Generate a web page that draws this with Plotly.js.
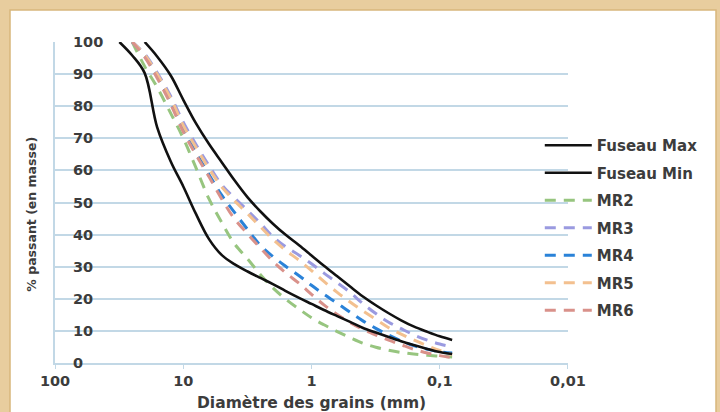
<!DOCTYPE html>
<html>
<head>
<meta charset="utf-8">
<script src="https://cdn.plot.ly/plotly-3.0.1.min.js"></script>
<style>
  html, body { margin: 0; padding: 0; background: #e8cd9e; }
  #chart { width: 720px; height: 412px; }
</style>
</head>
<body>
<div id="chart"></div>
<script>
// Sieve sizes (mm)
const sieves = [31.5, 25, 20, 16, 12.5, 10, 8, 6.3, 5, 4, 3.15, 2.5, 2, 1.6, 1.25, 1, 0.8, 0.63, 0.5, 0.4, 0.315, 0.25, 0.2, 0.16, 0.125, 0.1, 0.08];

// % passing for each curve
const fuseauMax = [null, null, 100, 95.5, 89.5, 82.0, 74.8, 68.2, 62.5, 57.0, 51.6, 47.2, 43.4, 40.0, 36.7, 33.5, 30.3, 27.0, 23.8, 20.8, 18.0, 15.5, 13.3, 11.4, 9.7, 8.3, 7.2];
const fuseauMin = [100, 95.8, 90.3, 73.5, 62.7, 55.0, 46.6, 38.6, 33.6, 30.8, 28.5, 26.5, 24.6, 22.5, 20.3, 18.4, 16.5, 14.6, 12.8, 11.0, 9.5, 8.1, 6.8, 5.6, 4.4, 3.4, 2.8];
const mr2 = [null, 100, 92.4, 85.9, 77.7, 70.0, 61.0, 51.1, 43.7, 37.2, 32.4, 27.5, 23.4, 20.0, 16.8, 14.1, 11.9, 9.8, 7.9, 6.2, 4.9, 4.0, 3.3, 2.8, 2.4, 2.1, 1.9];
const mr3 = [null, 100, 96.3, 90.5, 83.0, 75.0, 68.2, 61.5, 55.5, 51.5, 47.5, 43.5, 39.4, 36.3, 33.6, 30.9, 28.0, 25.0, 22.0, 18.6, 15.4, 12.7, 10.7, 8.8, 7.1, 5.9, 5.0];
const mr4 = [null, 100, 95.6, 89.4, 81.3, 72.7, 65.7, 58.7, 52.2, 47.0, 41.6, 36.6, 33.2, 30.2, 27.2, 24.2, 21.4, 18.6, 15.8, 13.2, 10.8, 8.7, 6.9, 5.4, 4.3, 3.5, 3.1];
const mr5 = [null, 100, 96.0, 90.0, 82.3, 74.0, 67.3, 60.5, 54.8, 50.6, 46.5, 42.4, 38.5, 35.2, 32.0, 28.8, 25.4, 22.0, 19.0, 16.3, 13.6, 11.0, 9.0, 7.2, 5.4, 3.9, 2.6];
const mr6 = [null, 100, 95.3, 88.8, 80.5, 72.0, 65.0, 58.0, 51.0, 45.0, 40.2, 35.8, 31.7, 28.2, 24.8, 21.4, 18.1, 15.1, 12.6, 10.5, 8.7, 7.1, 5.7, 4.3, 3.1, 2.3, 1.7];

const seriesNames = ["Fuseau Max", "Fuseau Min", "MR2", "MR3", "MR4", "MR5", "MR6"];
const seriesData = [fuseauMax, fuseauMin, mr2, mr3, mr4, mr5, mr6];
const seriesColors = ["#111111", "#111111", "#97c57f", "#9a9ae0", "#2a82d8", "#f3c08f", "#d9918a"];

const xTickVals = [100, 10, 1, 0.1, 0.01];
const xTickText = ["100", "10", "1", "0,1", "0,01"];
const yTickVals = [0, 10, 20, 30, 40, 50, 60, 70, 80, 90, 100];
const yTickText = ["0", "10", "20", "30", "40", "50", "60", "70", "80", "90", "100"];

const xTitle = "Diamètre des grains (mm)";
const yTitle = "% passant (en masse)";

const traces = seriesNames.map((name, i) => {
  const black = i < 2;
  return {
    type: "scatter",
    mode: "lines",
    name: name,
    x: sieves,
    y: seriesData[i],
    legendgroup: "g" + i,
    legendrank: i + 1,
    connectgaps: false,
    line: {
      color: seriesColors[i],
      width: black ? 2.6 : 3,
      shape: "spline",
      smoothing: 1,
      dash: black ? "solid" : "11px,8px"
    },
    hoverinfo: "skip"
  };
});
// draw black envelopes on top of the dashed curves
const ordered = traces.slice(2).concat(traces.slice(0, 2));

const grid = "#c2d8e6";
const txt = "#3c3c3c";
const fontFam = "DejaVu Sans, Verdana, sans-serif";

const annotations = yTickVals.map((v, i) => ({
  xref: "paper", yref: "y",
  x: 0.031, y: v,
  xanchor: "left", yanchor: "middle",
  text: yTickText[i],
  showarrow: false,
  font: { family: fontFam, size: 14.5, color: txt, weight: "bold" }
}));
annotations.push({
  xref: "paper", yref: "paper",
  x: 0.5, y: -0.124, xanchor: "center", yanchor: "middle",
  text: xTitle, showarrow: false,
  font: { family: fontFam, size: 15.5, color: txt, weight: "bold" }
});
annotations.push({
  xref: "paper", yref: "paper",
  x: -0.045, y: 0.465, xanchor: "center", yanchor: "middle",
  text: yTitle, textangle: -90, showarrow: false,
  font: { family: fontFam, size: 12.5, color: txt, weight: "bold" }
});

const layout = {
  width: 720,
  height: 412,
  margin: { l: 55, r: 152, t: 42, b: 49, pad: 0 },
  paper_bgcolor: "#e8cd9e",
  plot_bgcolor: "rgba(0,0,0,0)",
  font: { family: fontFam, size: 13, color: txt, weight: "bold" },
  showlegend: true,
  legend: {
    x: 0.945, xanchor: "left",
    y: 0.729, yanchor: "top",
    bgcolor: "rgba(0,0,0,0)",
    font: { family: fontFam, size: 15, color: txt, weight: "bold" },
    tracegroupgap: 5,
    itemwidth: 47,
    traceorder: "grouped"
  },
  xaxis: {
    type: "log",
    range: [2.0005, -2.0005],
    tickvals: xTickVals,
    ticktext: xTickText,
    showgrid: false,
    zeroline: false,
    showline: true,
    linecolor: grid,
    linewidth: 2,
    ticks: "outside",
    ticklen: 4,
    tickcolor: grid,
    tickfont: { family: fontFam, size: 14.5, color: txt, weight: "bold" },
    fixedrange: true
  },
  yaxis: {
    range: [0, 100],
    dtick: 10,
    tick0: 0,
    showgrid: true,
    gridcolor: grid,
    gridwidth: 2,
    zeroline: false,
    showline: true,
    linecolor: grid,
    linewidth: 2,
    ticks: "",
    showticklabels: false,
    fixedrange: true
  },
  annotations: annotations,
  shapes: [
    {
      type: "rect", xref: "paper", yref: "paper", layer: "below",
      x0: -0.0877, x1: 1.2885, y0: -0.16, y1: 1.0997,
      fillcolor: "#ffffff",
      line: { color: "#d8b77c", width: 1.5 }
    }
  ]
};

Plotly.newPlot("chart", ordered, layout, { displayModeBar: false, staticPlot: true });
</script>
</body>
</html>
